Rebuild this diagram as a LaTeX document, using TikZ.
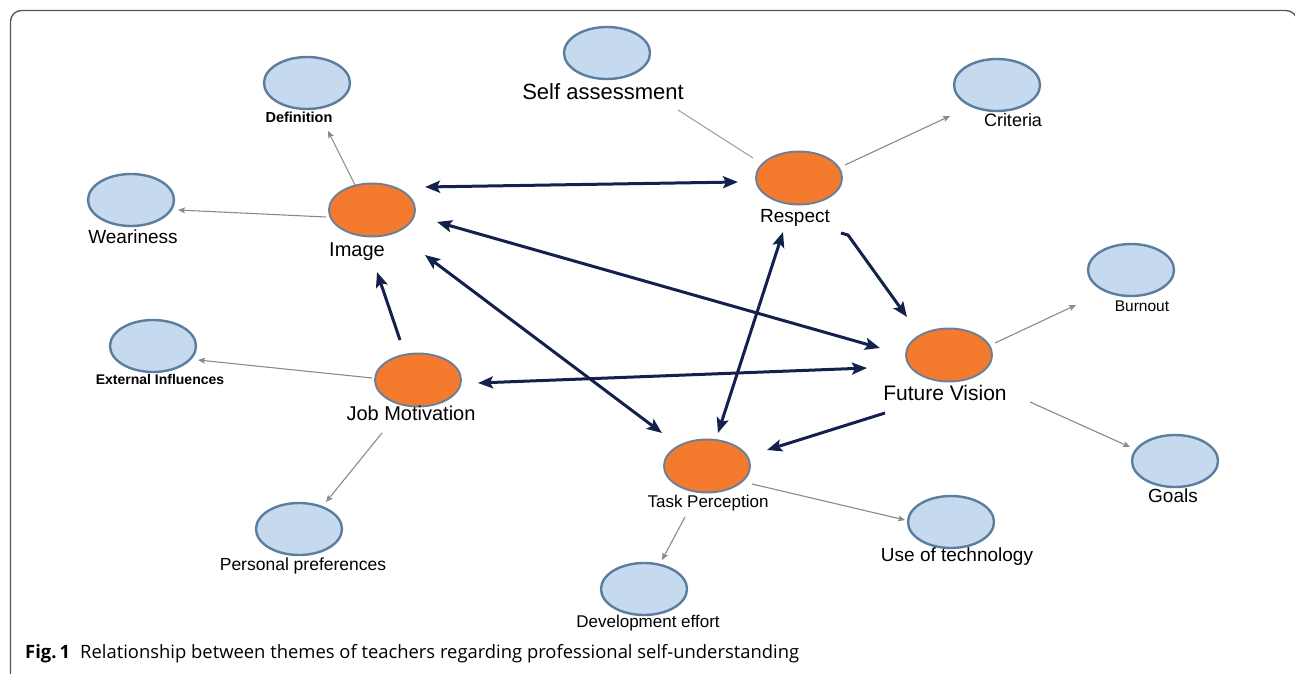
\documentclass[tikz,border=0pt]{standalone}
\usepackage{fontspec}
\setmainfont{Liberation Sans}
\newfontfamily\capfont{Open Sans}
\usetikzlibrary{shapes.geometric,arrows.meta,calc}
\definecolor{navy}{HTML}{14214D}
\definecolor{blfill}{HTML}{C6DAEF}
\definecolor{bldraw}{HTML}{5B7E9E}
\definecolor{orfill}{HTML}{F47B2E}
\definecolor{ordraw}{HTML}{6F7F96}
\definecolor{thin}{HTML}{8A8A8A}
\definecolor{frame}{HTML}{555555}
\tikzset{
  sub/.style={ellipse, draw=bldraw, fill=blfill, line width=2.4pt, minimum width=86pt, minimum height=52pt, inner sep=0pt, outer sep=0pt},
  theme/.style={ellipse, draw=ordraw, fill=orfill, line width=2pt, minimum width=86pt, minimum height=53pt, inner sep=0pt, outer sep=0pt},
  lab/.style={inner sep=0pt, text height=.72em, text depth=0pt, anchor=center, text=black},
  big/.style={draw=navy, line width=3pt, {Stealth[length=15pt,width=12pt,inset=3pt]}-{Stealth[length=15pt,width=12pt,inset=3pt]}},
  bigone/.style={draw=navy, line width=3pt, -{Stealth[length=15pt,width=12pt,inset=3pt]}},
  small/.style={draw=thin, line width=1.1pt, -{Stealth[length=7pt,width=6pt,inset=1.5pt]}},
  smallplain/.style={draw=thin!80, line width=1.1pt},
}
\begin{document}
\begin{tikzpicture}[x=1pt,y=-1pt]
\useasboundingbox (0,0) rectangle (1295,674);
% frame
\draw[frame, line width=1.3pt, rounded corners=11pt] (10.5,680) -- (10.5,10.5) -- (1297,10.5) -- (1297,680);

% sub-theme ellipses
\node[sub] (def) at (307,83) {};
\node[sub] (wea) at (131,200) {};
\node[sub] (sa) at (607,53) {};
\node[sub] (cri) at (997,85) {};
\node[sub] (bur) at (1131,270) {};
\node[sub] (goa) at (1175,461) {};
\node[sub] (use) at (951,522) {};
\node[sub] (dev) at (644,589) {};
\node[sub] (ext) at (153,346) {};
\node[sub] (per) at (299,529) {};
% theme ellipses
\node[theme] (img) at (372,210) {};
\node[theme] (res) at (799,178) {};
\node[theme] (fut) at (949,355) {};
\node[theme] (task) at (707,466) {};
\node[theme] (job) at (418,380) {};

% labels
\node[lab, font=\fontsize{14.5}{14.5}\selectfont\bfseries] (ldef) at (299,119) {Definition};
\node[lab, font=\fontsize{19}{19}\selectfont] (lwea) at (133,240) {Weariness};
\node[lab, font=\fontsize{20}{20}\selectfont] (limg) at (357,253) {Image};
\node[lab, font=\fontsize{22}{22}\selectfont] (lsa) at (603,96) {Self assessment};
\node[lab, font=\fontsize{19}{19}\selectfont] (lres) at (795,219) {Respect};
\node[lab, font=\fontsize{18}{18}\selectfont] (lcri) at (1013,123) {Criteria};
\node[lab, font=\fontsize{15.5}{15.5}\selectfont] (lbur) at (1142,308) {Burnout};
\node[lab, font=\fontsize{21}{21}\selectfont] (lfut) at (945,397) {Future Vision};
\node[lab, font=\fontsize{19}{19}\selectfont] (lgoa) at (1173,499) {Goals};
\node[lab, font=\fontsize{19}{19}\selectfont] (luse) at (957,558) {Use of technology};
\node[lab, font=\fontsize{17}{17}\selectfont] (ltask) at (708,504) {Task Perception};
\node[lab, font=\fontsize{17}{17}\selectfont] (ldev) at (648,624) {Development effort};
\node[lab, font=\fontsize{20}{20}\selectfont] (ljob) at (411,417) {Job Motivation};
\node[lab, font=\fontsize{14}{14}\selectfont\bfseries] (lext) at (160,381) {External Influences};
\node[lab, font=\fontsize{17.5}{17.5}\selectfont] (lper) at (303,567) {Personal preferences};

% thin connectors
\draw[small] ($(img)+(-17,-25)$) -- ($(def)+(21,48)$);
\draw[small] ($(img)+(-46,7)$) -- ($(wea)+(47,10)$);
\draw[smallplain] ($(res)+(-46,-20)$) -- ($(sa)+(71,57)$);
\draw[small] ($(res)+(46,-13)$) -- ($(cri)+(-47,31)$);
\draw[small] ($(fut)+(46,-12)$) -- ($(bur)+(-55,35)$);
\draw[small] ($(fut)+(81,47)$) -- ($(goa)+(-45,-14)$);
\draw[small] ($(task)+(45,18)$) -- ($(use)+(-46,-2)$);
\draw[small] ($(task)+(-22,51)$) -- ($(dev)+(18,-29)$);
\draw[small] ($(job)+(-46,-2)$) -- ($(ext)+(45,14)$);
\draw[small] ($(job)+(-36,53)$) -- ($(per)+(27,-27)$);

% thick connectors
\draw[big] ($(img)+(53,-23)$) -- ($(res)+(-61,4)$);
\draw[big] ($(img)+(65,12)$) -- ($(fut)+(-69,-7)$);
\draw[big] ($(img)+(53,45)$) -- ($(task)+(-45,-33)$);
\draw[bigone] ($(job)+(-18,-40)$) -- ($(img)+(5,62)$);
\draw[big] ($(job)+(60,3)$) -- ($(fut)+(-82,13)$);
\draw[big] ($(task)+(11,-33)$) -- ($(res)+(-16,54)$);
\draw[bigone] ($(res)+(42,55)$) -- ($(res)+(49,57)$) -- ($(fut)+(-42,-38)$);
\draw[bigone] ($(fut)+(-64,58)$) -- ($(task)+(60,-16)$);

% caption
\node[inner sep=0pt, anchor=west, font=\capfont\fontsize{18.4}{18.4}\selectfont, text height=.72em, text depth=0pt] (cap) at (25,655) {\textbf{Fig.\,1}\hspace{0.55em}Relationship between themes of teachers regarding professional self-understanding};
\end{tikzpicture}
\end{document}
